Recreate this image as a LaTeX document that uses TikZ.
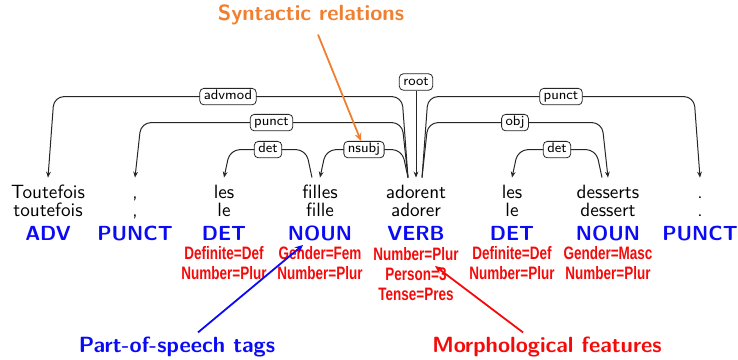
\documentclass[tikz,border=0pt]{standalone}
\usepackage{fontspec}
\usepackage{tikz}
\usetikzlibrary{arrows.meta,calc}
\newfontfamily\featfont[FakeStretch=0.75]{Liberation Sans}
\definecolor{SynOrange}{HTML}{F08030}
\definecolor{PosBlue}{HTML}{0A0AF5}
\definecolor{FeatRed}{HTML}{F50A0A}

\begin{document}
\begin{tikzpicture}[
    x=0.5pt, y=0.5pt,
    word/.style={anchor=base, inner sep=0pt, text height=10pt, text depth=2pt,
      font=\sffamily\fontsize{9.6}{11}\selectfont},
    lemma/.style={anchor=base, inner sep=0pt, font=\sffamily\fontsize{9.6}{11}\selectfont},
    postag/.style={anchor=base, inner sep=1pt, text=PosBlue,
      font=\sffamily\bfseries\fontsize{10.2}{12}\selectfont},
    feats/.style={anchor=base, inner sep=0pt, align=center, text=FeatRed,
      font=\featfont\bfseries\fontsize{9}{10}\selectfont},
    deparc/.style={-{Stealth[length=3pt,width=2.4pt]}, line width=0.5pt,
      draw=black!85, rounded corners=5pt},
    deptag/.style={draw=black!85, fill=white, rounded corners=2pt, line width=0.4pt,
      inner xsep=2pt, inner ysep=1pt, text height=4.8pt, text depth=1.4pt,
      font=\sffamily\fontsize{6.9}{8}\selectfont},
    deplabel/.style={deptag, midway},
    callout/.style={anchor=base, font=\sffamily\bfseries\fontsize{11}{13}\selectfont},
    pointer/.style={-{Stealth[length=4pt,width=3.5pt]}, line width=0.9pt}
  ]
  \useasboundingbox (0,0) rectangle (738,359);

  % word forms
  \node[word] (toutefois) at (48,161) {Toutefois};
  \node[word] (comma) at (135,161) {,};
  \node[word] (les) at (224,161) {les};
  \node[word] (filles) at (320,161) {filles};
  \node[word] (adorent) at (416,161) {adorent};
  \node[word] (lestwo) at (512,161) {les};
  \node[word] (desserts) at (608,161) {desserts};
  \node[word] (period) at (700,161) {.};

  % lemmas
  \node[lemma] (lem1) at (48,142) {toutefois};
  \node[lemma] (lem2) at (135,142) {,};
  \node[lemma] (lem3) at (224,142) {le};
  \node[lemma] (lem4) at (320,142) {fille};
  \node[lemma] (lem5) at (416,142) {adorer};
  \node[lemma] (lem6) at (512,142) {le};
  \node[lemma] (lem7) at (608,142) {dessert};
  \node[lemma] (lem8) at (700,142) {.};

  % UPOS
  \node[postag] (pos1) at (48,119) {ADV};
  \node[postag] (pos2) at (135,119) {PUNCT};
  \node[postag] (pos3) at (224,119) {DET};
  \node[postag] (pos4) at (320,119) {NOUN};
  \node[postag] (pos5) at (416,119) {VERB};
  \node[postag] (pos6) at (512,119) {DET};
  \node[postag] (pos7) at (608,119) {NOUN};
  \node[postag] (pos8) at (700,119) {PUNCT};

  % morphological features (base = last line)
  \node[feats] (feat3) at (224,80) {Definite=Def\\Number=Plur};
  \node[feats] (feat4) at (320,80) {Gender=Fem\\Number=Plur};
  \node[feats] (feat5) at (416,59) {Number=Plur\\Person=3\\Tense=Pres};
  \node[feats] (feat6) at (512,80) {Definite=Def\\Number=Plur};
  \node[feats] (feat7) at (608,80) {Gender=Masc\\Number=Plur};

  % dependency arcs
  \node[deptag] (root) at (416,277) {root};
  \draw[deparc] (root) -- (adorent);
  \draw[deparc] ([xshift=-4pt]adorent.north) -- ++(-6,81)
    -- ($(toutefois.north)+(6,81)$) node[deplabel] (advmod) {advmod} -- (toutefois.north);
  \draw[deparc] ([xshift=-4pt]adorent.north) -- ++(-6,55)
    -- ($(comma.north)+(6,55)$) node[deplabel] (punctl) {punct} -- (comma.north);
  \draw[deparc] ([xshift=-4pt]adorent.north) -- ++(-6,28)
    -- ($(filles.north)+(6,28)$) node[deplabel] (nsubj) {nsubj} -- (filles.north);
  \draw[deparc] ([xshift=-4pt]filles.north) -- ++(-6,28)
    -- ($(les.north)+(6,28)$) node[deplabel] (detl) {det} -- (les.north);
  \draw[deparc] ([xshift=3pt]adorent.north) -- ++(6,81)
    -- ($(period.north)+(-6,81)$) node[deplabel] (punctr) {punct} -- (period.north);
  \draw[deparc] ([xshift=3pt]adorent.north) -- ++(6,55)
    -- ($(desserts.north)+(-6,55)$) node[deplabel] (obj) {obj} -- (desserts.north);
  \draw[deparc] ([xshift=-3pt]desserts.north) -- ++(-6,28)
    -- ($(lestwo.north)+(6,28)$) node[deplabel] (detr) {det} -- (lestwo.north);

  % callouts
  \node[callout, text=SynOrange] (synrel) at (311,338) {Syntactic relations};
  \node[callout, text=PosBlue] (postags) at (177,7) {Part-of-speech tags};
  \node[callout, text=FeatRed] (morph) at (547,7) {Morphological features};
  \draw[pointer, SynOrange] ($(synrel.south)+(7,-2)$) -- ([xshift=-1.5pt]nsubj.north);
  \draw[pointer, PosBlue] ($(postags.north)+(21,-3)$) -- ($(pos4.base)+(-17,-5)$);
  \draw[pointer, FeatRed] ($(morph.north)+(-24,-3)$) -- ($(feat5.base)+(19,34)$);
\end{tikzpicture}
\end{document}
